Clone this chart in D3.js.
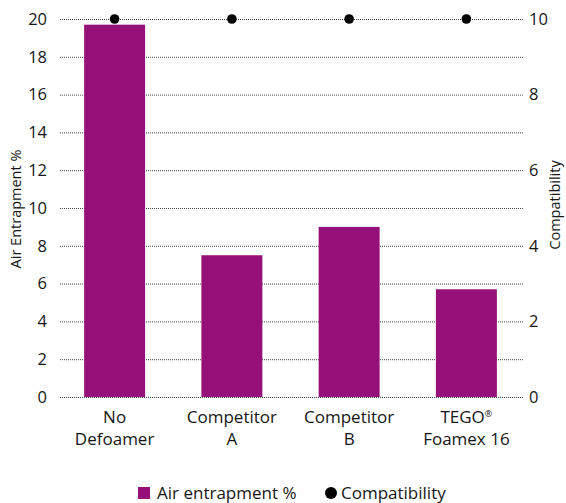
<!DOCTYPE html>
<html><head><meta charset="utf-8">
<script src="https://cdn.jsdelivr.net/npm/d3@7"></script>
<style>body{margin:0;background:#fff;}svg{display:block;font-family:"Open Sans",sans-serif;}</style>
</head><body>
<svg id="c" width="566" height="503"></svg>
<script>
const categories = [["No","Defoamer"],["Competitor","A"],["Competitor","B"],["TEGO®","Foamex 16"]];
const airEntrapment = [19.7, 7.5, 9.0, 5.7];
const compatibility = [10, 10, 10, 10];
const leftTicks = [0,2,4,6,8,10,12,14,16,18,20];
const rightTicks = [0,2,4,6,8,10];
const color = "#951078";
const textColor = "#161616";

const svg = d3.select("#c");
const x = d3.scaleBand().domain(d3.range(categories.length)).range([56,525]).paddingInner(0.48).paddingOuter(0.24);
const yL = d3.scaleLinear().domain([0,20]).range([397,19]);
const yR = d3.scaleLinear().domain([0,10]).range([397,19]);

// gridlines
svg.append("g").selectAll("line").data(leftTicks).join("line")
  .attr("x1",60).attr("x2",523).attr("y1",d=>yL(d)+0.5).attr("y2",d=>yL(d)+0.5)
  .attr("stroke","#444").attr("stroke-width",1).attr("stroke-dasharray","1,1");

// bars
svg.append("g").selectAll("rect").data(airEntrapment).join("rect")
  .attr("x",(d,i)=>x(i)).attr("width",x.bandwidth())
  .attr("y",d=>yL(d)).attr("height",d=>yL(0)-yL(d)).attr("fill",color);

// dots
svg.append("g").selectAll("circle").data(compatibility).join("circle")
  .attr("cx",(d,i)=>x(i)+x.bandwidth()/2).attr("cy",d=>yR(d)).attr("r",4.8).attr("fill","#000");

// left axis
const la = svg.append("g").attr("transform","translate(47,0)")
  .call(d3.axisLeft(yL).tickValues(leftTicks).tickSize(0).tickPadding(0));
la.select(".domain").remove();
la.selectAll("text").attr("font-size",16.5).attr("fill",textColor).attr("font-family","Open Sans, sans-serif");

// right axis
const ra = svg.append("g").attr("transform","translate(529,0)")
  .call(d3.axisRight(yR).tickValues(rightTicks).tickSize(0).tickPadding(0));
ra.select(".domain").remove();
ra.selectAll("text").attr("font-size",16.5).attr("fill",textColor).attr("font-family","Open Sans, sans-serif");

// x labels: one text element per line
const xg = svg.append("g");
categories.forEach((lines,i)=>{
  const cx = x(i)+x.bandwidth()/2;
  lines.forEach((s,j)=>{
    const t = xg.append("text").attr("x",cx).attr("y",423+j*22)
      .attr("text-anchor","middle").attr("font-size",17).attr("fill",textColor);
    if (s.endsWith("®")) {
      t.append("tspan").text(s.slice(0,-1));
      t.append("tspan").attr("font-size",9).attr("baseline-shift","70%").text("®");
    } else t.text(s);
  });
});

// axis titles
svg.append("text").attr("transform","translate(21,209) rotate(-90)").attr("text-anchor","middle")
  .attr("font-size",14.5).attr("fill",textColor).text("Air Entrapment %");
svg.append("text").attr("transform","translate(560,205) rotate(-90)").attr("text-anchor","middle")
  .attr("font-size",14.5).attr("fill",textColor).text("Compatibility");

// legend
const lg = svg.append("g");
lg.append("rect").attr("x",138).attr("y",487).attr("width",12).attr("height",12).attr("fill",color);
lg.append("text").attr("x",157).attr("y",499).attr("font-size",17).attr("fill",textColor).text("Air entrapment %");
lg.append("circle").attr("cx",331).attr("cy",493).attr("r",6).attr("fill","#000");
lg.append("text").attr("x",341).attr("y",499).attr("font-size",17).attr("fill",textColor).text("Compatibility");
</script>
</body></html>
